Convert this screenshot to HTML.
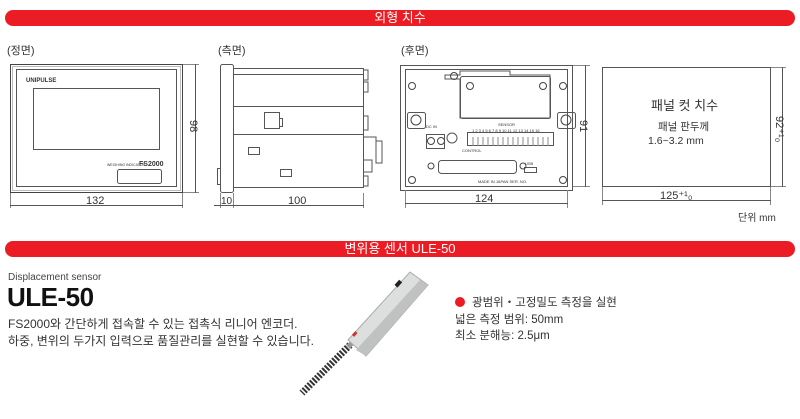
<!DOCTYPE html>
<html><head><meta charset="utf-8">
<style>
body{margin:0;width:800px;height:419px;background:#fff;position:relative;overflow:hidden;font-family:"Liberation Sans","Noto Sans CJK KR",sans-serif;color:#222}
.bar{position:absolute;left:5px;width:790px;height:16px;background:#ec1c24;border-radius:8px;color:#fff;font-size:13px;line-height:16px;text-align:center}
.t{position:absolute;white-space:nowrap}
</style></head><body>
<div class="bar" style="top:10px">외형 치수</div>
<div class="bar" style="top:241px">변위용 센서 ULE-50</div>

<svg width="800" height="240" style="position:absolute;left:0;top:0" font-family="Liberation Sans, Noto Sans CJK KR, sans-serif">
<g fill="none" stroke="#555" stroke-width="1">
<!-- front -->
<rect x="10.5" y="64.5" width="172" height="128" stroke="#444"/>
<rect x="12.5" y="66.5" width="168" height="124" stroke="#bbb"/>
<rect x="16.5" y="69.5" width="160" height="117"/>
<rect x="33.5" y="88.5" width="126" height="61"/>
<rect x="117.5" y="169.5" width="44" height="14" rx="2"/>
<line x1="183" y1="64.5" x2="199" y2="64.5" stroke="#888"/>
<line x1="183" y1="192.5" x2="199" y2="192.5" stroke="#888"/>
<line x1="195.5" y1="64" x2="195.5" y2="193"/>
<line x1="10.5" y1="193" x2="10.5" y2="208" stroke="#888"/>
<line x1="182.5" y1="193" x2="182.5" y2="208" stroke="#888"/>
<line x1="10" y1="205.5" x2="183" y2="205.5"/>
<!-- side -->
<rect x="220.5" y="64.5" width="13" height="128" rx="2"/>
<rect x="233.5" y="68.5" width="130" height="38"/>
<line x1="233" y1="74.5" x2="363" y2="74.5"/>
<rect x="233.5" y="106.5" width="130" height="28"/>
<rect x="233.5" y="134.5" width="130" height="53"/>
<rect x="264.5" y="112.5" width="15" height="16"/>
<rect x="279.5" y="118.5" width="3" height="8"/>
<rect x="248.5" y="147.5" width="11" height="7"/>
<rect x="280.5" y="169.5" width="11" height="7"/>
<rect x="217.5" y="168.5" width="3" height="16"/>
<path d="M364 70h4v10h-4M364 82h4v10h-4M364 116h4v14h-4M364 137h12v26h6v-22h-6M364 160h8v12h-8M364 176h4v10h-4"/>
<line x1="220.5" y1="193" x2="220.5" y2="208" stroke="#888"/>
<line x1="233.5" y1="193" x2="233.5" y2="208" stroke="#888"/>
<line x1="363.5" y1="193" x2="363.5" y2="208" stroke="#888"/>
<line x1="214" y1="205.5" x2="364" y2="205.5"/>
<!-- rear -->
<rect x="400.5" y="65.5" width="172" height="125"/>
<rect x="405.5" y="69.5" width="162" height="117"/>
<path d="M445 75h15v-4h50v4h40v43h-90v-39h-15z"/>
<rect x="460.5" y="76.5" width="90" height="42" rx="2"/>
<rect x="407.5" y="112.5" width="18" height="16" rx="2"/>
<rect x="557.5" y="112.5" width="18" height="16" rx="2"/>
<rect x="426.5" y="134.5" width="18" height="14"/>
<rect x="467.5" y="132.5" width="86" height="13"/>
<rect x="438.5" y="160.5" width="78" height="13" rx="3"/>
<rect x="524.5" y="167.5" width="12" height="5"/>
<circle cx="452" cy="138" r="5"/>
<g stroke="#444">
<circle cx="416" cy="120" r="5"/><circle cx="566" cy="120" r="5"/>
<circle cx="412" cy="86" r="3.5"/><circle cx="563" cy="86" r="3.5"/>
<circle cx="412" cy="180" r="3.5"/><circle cx="563" cy="180" r="3.5"/>
<circle cx="454" cy="76" r="3.5"/><circle cx="470" cy="86" r="3.5"/><circle cx="543" cy="86" r="3.5"/>
<circle cx="431" cy="141" r="3.5"/><circle cx="441" cy="141" r="3.5"/>
<circle cx="431" cy="166" r="3"/><circle cx="523" cy="166" r="3"/>
</g>
<path d="M473 137v9M478 137v9M483 137v9M488 137v9M493 137v9M498 137v9M503 137v9M508 137v9M513 137v9M518 137v9M523 137v9M528 137v9M533 137v9M538 137v9M543 137v9M548 137v9" stroke="#888"/>
<line x1="573" y1="65.5" x2="590" y2="65.5" stroke="#888"/>
<line x1="573" y1="186.5" x2="590" y2="186.5" stroke="#888"/>
<line x1="585.5" y1="65" x2="585.5" y2="187"/>
<line x1="405.5" y1="190" x2="405.5" y2="208" stroke="#888"/>
<line x1="567.5" y1="190" x2="567.5" y2="208" stroke="#888"/>
<line x1="405" y1="203.5" x2="568" y2="203.5"/>
<!-- panel cut -->
<rect x="602.5" y="67.5" width="168" height="119"/>
<line x1="771" y1="67.5" x2="786" y2="67.5" stroke="#888"/>
<line x1="771" y1="186.5" x2="786" y2="186.5" stroke="#888"/>
<line x1="782.5" y1="67" x2="782.5" y2="187"/>
<line x1="602.5" y1="187" x2="602.5" y2="205" stroke="#888"/>
<line x1="770.5" y1="187" x2="770.5" y2="205" stroke="#888"/>
<line x1="602" y1="200.5" x2="771" y2="200.5"/>
</g>
<g fill="#333" font-size="11">
<text x="7" y="54">(정면)</text>
<text x="218" y="54">(측면)</text>
<text x="401" y="54">(후면)</text>
<text x="86" y="204">132</text>
<text x="221" y="204" font-size="10">10</text>
<text x="288" y="204">100</text>
<text x="475" y="202">124</text>
<text x="660" y="199">125⁺¹₀</text>
<text transform="translate(190,120) rotate(90)">98</text>
<text transform="translate(580,120) rotate(90)">91</text>
<text transform="translate(776,116) rotate(90)">92⁺¹₀</text>
<text x="651" y="110" font-size="13">패널 컷 치수</text>
<text x="658" y="130" font-size="10.5">패널 판두께</text>
<text x="648" y="144" font-size="10.5">1.6~3.2 mm</text>
<text x="738" y="221" font-size="10">단위 mm</text>
<text x="26" y="82" font-size="6" font-weight="bold">UNIPULSE</text>
<text x="107" y="166" font-size="3.5">WEIGHING INDICATOR</text>
<text x="139" y="166" font-size="7" font-weight="bold">FS2000</text>
<text x="426" y="128" font-size="4">DC IN</text>
<text x="498" y="126" font-size="4">SENSOR</text>
<text x="472" y="132" font-size="4">1 2 3 4 5 6 7 8 9 10 11 12 13 14 15 16</text>
<text x="462" y="152" font-size="4">CONTROL</text>
<text x="525" y="165" font-size="4">USB</text>
<text x="478" y="183" font-size="4">MADE IN JAPAN  SER. NO.</text>
</g>
</svg>

<div class="t" style="left:8px;top:272px;font-size:10px;color:#444">Displacement sensor</div>
<div class="t" style="left:7px;top:282px;font-size:26px;font-weight:bold;color:#111;letter-spacing:-0.5px">ULE-50</div>
<div class="t" style="left:8px;top:315px;font-size:12px;color:#333">FS2000와 간단하게 접속할 수 있는 접촉식 리니어 엔코더.</div>
<div class="t" style="left:8px;top:332px;font-size:12px;color:#333">하중, 변위의 두가지 입력으로 품질관리를 실현할 수 있습니다.</div>

<div style="position:absolute;left:455px;top:297px;width:10px;height:10px;border-radius:50%;background:#ec1c24"></div>
<div class="t" style="left:472px;top:294px;font-size:11.5px;color:#333">광범위・고정밀도 측정을 실현</div>
<div class="t" style="left:455px;top:311px;font-size:11.5px;color:#333">넓은 측정 범위: 50mm</div>
<div class="t" style="left:455px;top:327px;font-size:11.5px;color:#333">최소 분해능: 2.5μm</div>

<svg width="800" height="419" style="position:absolute;left:0;top:0">
<line x1="350" y1="345" x2="302" y2="393" stroke="#333" stroke-width="7" stroke-dasharray="2 1.5"/>
<line x1="358" y1="337" x2="348" y2="347" stroke="#999" stroke-width="5"/>
<polygon points="348,340 410,272 428,285 366,356" fill="#dcdfdd" stroke="#aaa"/>
<polygon points="356,350 420,280 428,285 366,356" fill="#bfc2c1"/>
<rect x="395" y="282" width="7" height="4" fill="#222" transform="rotate(-48 398 284)"/>
<rect x="352" y="333" width="5" height="3" fill="#c33" transform="rotate(-48 354 334)"/>
</svg>
</body></html>
